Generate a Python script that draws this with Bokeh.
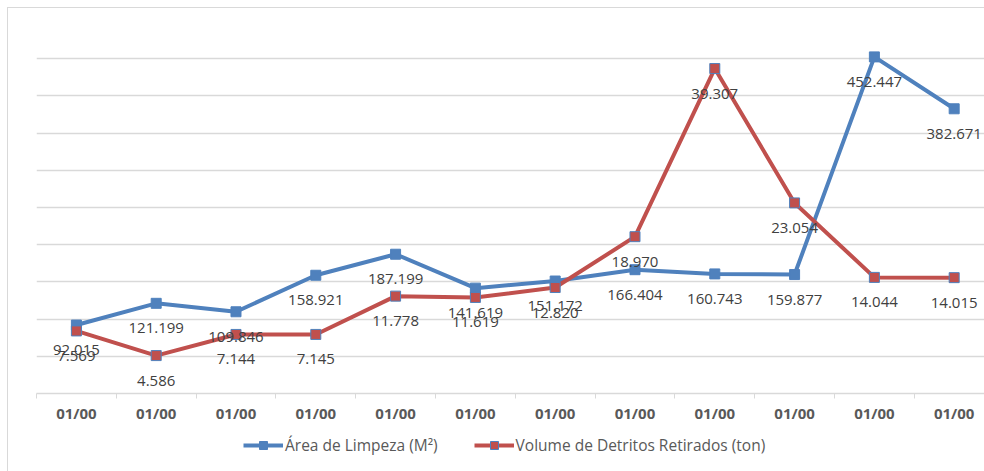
from bokeh.plotting import figure
from bokeh.layouts import column
from bokeh.models import Range1d, FixedTicker, Legend, LegendItem, ColumnDataSource
from bokeh.core.properties import value
from bokeh.embed import file_html
from bokeh.resources import INLINE

categories = ["01/00"] * 12
area = [92.015, 121.199, 109.846, 158.921, 187.199, 141.619, 151.172, 166.404, 160.743, 159.877, 452.447, 382.671]
volume = [7.569, 4.586, 7.144, 7.145, 11.778, 11.619, 12.820, 18.970, 39.307, 23.054, 14.044, 14.015]
area_ticks = [0, 50, 100, 150, 200, 250, 300, 350, 400, 450, 500]
series_names = ["Área de Limpeza (M²)", "Volume de Detritos Retirados (ton)"]

xs = list(range(len(categories)))
BLUE = "#4f81bd"
RED = "#c0504d"
FONT = "Open Sans"

p = figure(width=976, height=425, output_backend="svg", toolbar_location=None,
           x_range=Range1d(-0.5, 11.38), y_range=Range1d(0, 500),
           min_border_left=28, min_border_right=0, min_border_top=13, min_border_bottom=40)
p.extra_y_ranges = {"vol": Range1d(0, 45)}
p.outline_line_color = None

p.yaxis.visible = False
p.ygrid.ticker = FixedTicker(ticks=area_ticks)
p.ygrid.grid_line_color = "#d9d9d9"
p.ygrid.grid_line_width = 1.5
p.xgrid.visible = False

ax = p.xaxis[0]
ax.ticker = FixedTicker(ticks=xs, minor_ticks=[x - 0.5 for x in xs] + [11.5])
ax.major_label_overrides = {x: c for x, c in zip(xs, categories)}
ax.major_tick_out = 0
ax.major_tick_in = 0
ax.minor_tick_out = 5
ax.minor_tick_in = 0
ax.minor_tick_line_color = "#d9d9d9"
ax.axis_line_color = "#d9d9d9"
ax.axis_line_width = 1.5
ax.major_label_standoff = 4
ax.major_label_text_font = FONT
ax.major_label_text_font_style = "bold"
ax.major_label_text_font_size = "15px"
ax.major_label_text_color = "#595959"

src_a = ColumnDataSource(dict(x=xs, y=area, t=[f"{v:.3f}" for v in area]))
src_v = ColumnDataSource(dict(x=xs, y=volume, t=[f"{v:.3f}" for v in volume]))

p.line("x", "y", source=src_a, line_color=BLUE, line_width=4)
p.scatter("x", "y", source=src_a, marker="square", size=10, fill_color=BLUE, line_color=BLUE)
p.line("x", "y", source=src_v, line_color=RED, line_width=4, y_range_name="vol")
p.scatter("x", "y", source=src_v, marker="square", size=10, fill_color=RED, line_color=BLUE,
          line_width=1, y_range_name="vol")

p.text("x", "y", text="t", source=src_a, text_font=value(FONT), text_font_size="15px",
       text_color="#404040", text_align="center", text_baseline="middle", y_offset=25)
p.text("x", "y", text="t", source=src_v, text_font=value(FONT), text_font_size="15px",
       text_color="#404040", text_align="center", text_baseline="middle", y_offset=25,
       y_range_name="vol")

# legend strip (its glyphs use the same data, drawn outside the strip's visible range)
lf = figure(width=976, height=38, output_backend="svg", toolbar_location=None,
            x_range=Range1d(-0.5, 11.38), y_range=Range1d(-2000, -1999),
            x_axis_location=None, y_axis_location=None,
            min_border_left=0, min_border_right=0, min_border_top=0, min_border_bottom=0)
lf.grid.visible = False
lf.outline_line_color = None
ga1 = lf.line("x", "y", source=src_a, line_color=BLUE, line_width=4)
ga2 = lf.scatter("x", "y", source=src_a, marker="square", size=10, fill_color=BLUE, line_color=BLUE)
gv1 = lf.line("x", "y", source=src_v, line_color=RED, line_width=4)
gv2 = lf.scatter("x", "y", source=src_v, marker="square", size=10, fill_color=RED, line_color=BLUE,
                 line_width=1)

legend = Legend(items=[LegendItem(label=series_names[0], renderers=[ga1, ga2]),
                       LegendItem(label=series_names[1], renderers=[gv1, gv2])],
                orientation="horizontal", location=(207, 15))
legend.border_line_color = None
legend.background_fill_alpha = 0
legend.glyph_width = 40
legend.glyph_height = 20
legend.label_standoff = 2
legend.spacing = 36
legend.padding = 0
legend.margin = 0
legend.label_text_font = FONT
legend.label_text_font_size = "15.5px"
legend.label_text_color = "#595959"
lf.add_layout(legend, "center")

layout = column(p, lf, spacing=0,
                styles={"margin": "7px 0 0 7px",
                        "border-left": "1px solid #d9d9d9", "border-top": "1px solid #d9d9d9"})

open("out.html", "w").write(file_html(layout, INLINE))
